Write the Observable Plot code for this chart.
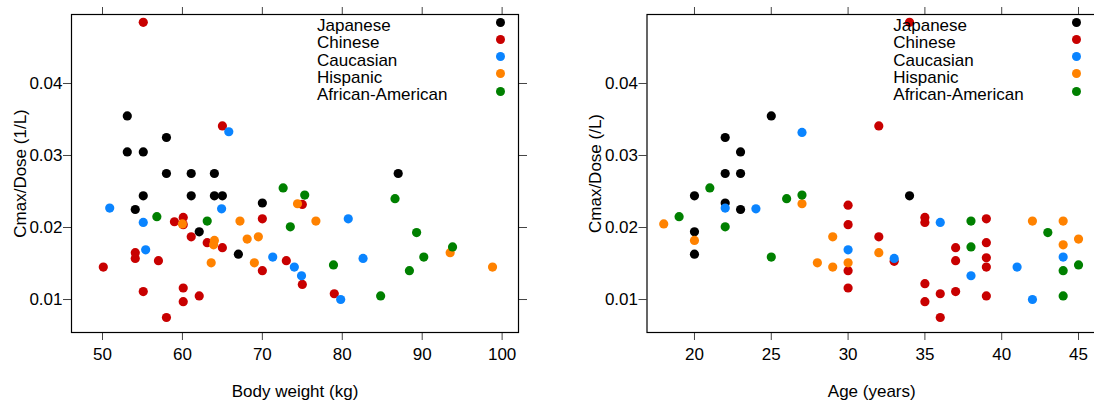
<!DOCTYPE html>
<html>
<head>
<meta charset="utf-8">
<script src="https://cdn.jsdelivr.net/npm/d3@7"></script>
<script src="https://cdn.jsdelivr.net/npm/@observablehq/plot@0.6"></script>
<style>
  html, body { margin: 0; padding: 0; background: #fff; overflow: hidden; }
  #wrap { position: relative; width: 1094px; height: 402px; display: flex; overflow: hidden;
          font-family: "Liberation Sans", Arial, sans-serif; }
  .panel { position: relative; flex: none; }
  .lg-text { position: absolute; font-size: 17px; line-height: 17px; white-space: nowrap; color: #000; }
  .lg-dot { position: absolute; width: 9px; height: 9px; border-radius: 50%; }
</style>
</head>
<body>
<div id="wrap"></div>
<script>
// Groups and colours
const groups = ["Japanese", "Chinese", "Caucasian", "Hispanic", "African-American"];
const groupColors = ["#000000", "#c80000", "#0a84ff", "#ff8200", "#008000"];

// Panel 1: body weight (kg) vs Cmax/Dose, per group [weight, value]
const wtJapanese = [[53.1,.0355],[58,.0325],[53.1,.0305],[55.1,.0305],[58,.0275],[61.1,.0275],[64,.0275],[87,.0275],[55.1,.0244],[61.1,.0244],[64,.0244],[65,.0244],[70,.0234],[54.1,.0225],[62.1,.0194],[67,.0163]];
const wtChinese = [[55.1,.0485],[65,.0341],[75,.0232],[60.1,.0214],[70,.0212],[59,.0208],[60.1,.0204],[61.1,.0187],[63.1,.0179],[65,.0172],[54.1,.0165],[54.1,.0157],[57,.0154],[73,.0154],[50.1,.0145],[70,.0140],[75,.0121],[60.1,.0116],[55.1,.0111],[79,.0108],[62.1,.0105],[60.1,.0097],[58,.0075]];
const wtCaucasian = [[65.8,.0333],[50.9,.0227],[64.9,.0226],[80.75,.0212],[55.1,.0207],[55.4,.0169],[71.3,.0159],[82.6,.0157],[74,.0145],[74.9,.0133],[79.8,.0100]];
const wtHispanic = [[74.4,.0233],[60,.0205],[67.2,.0209],[76.7,.0209],[68.1,.0184],[69.5,.0187],[64,.0182],[63.9,.0176],[93.5,.0165],[63.6,.0151],[69,.0151],[98.8,.0145]];
const wtAfricanAmerican = [[72.6,.0255],[56.8,.0215],[63.1,.0209],[73.5,.0201],[75.3,.0245],[86.6,.0240],[89.3,.0193],[93.8,.0173],[90.2,.0159],[78.9,.0148],[88.4,.0140],[84.8,.0105]];

// Panel 2: age (years) vs Cmax/Dose, per group [age, value]
const ageJapanese = [[25,.0355],[22,.0325],[23,.0305],[22,.0275],[23,.0275],[20,.0244],[22,.0234],[23,.0225],[20,.0194],[20,.0163],[34,.0244]];
const ageChinese = [[34,.0485],[32,.0341],[30,.0231],[30,.0204],[30,.0140],[30,.0116],[32,.0187],[33,.0153],[35,.0214],[35,.0207],[35,.0122],[35,.0097],[36,.0108],[36,.0075],[37,.0172],[37,.0154],[37,.0111],[39,.0212],[39,.0179],[39,.0158],[39,.0145],[39,.0105]];
const ageCaucasian = [[27,.0332],[22,.0227],[24,.0226],[36,.0207],[30,.0169],[33,.0157],[38,.0133],[41,.0145],[42,.0100],[44,.0159]];
const ageHispanic = [[18,.0205],[20,.0182],[27,.0233],[28,.0151],[29,.0187],[29,.0145],[30,.0151],[32,.0165],[42,.0209],[44,.0209],[44,.0176],[45,.0184]];
const ageAfricanAmerican = [[19,.0215],[21,.0255],[22,.0201],[25,.0159],[26,.0240],[27,.0245],[38,.0209],[38,.0173],[43,.0193],[44,.0140],[44,.0105],[45,.0148]];

// Tick labels
const wtTicks = [50, 60, 70, 80, 90, 100];
const ageTicks = [20, 25, 30, 35, 40, 45];
const yTicks = [0.01, 0.02, 0.03, 0.04];

function rows(byGroup) {
  const out = [];
  byGroup.forEach((arr, gi) => arr.forEach(([x, y]) => out.push({x, y, group: groups[gi]})));
  return out;
}
const wtData = rows([wtJapanese, wtChinese, wtCaucasian, wtHispanic, wtAfricanAmerican]);
const ageData = rows([ageJapanese, ageChinese, ageCaucasian, ageHispanic, ageAfricanAmerican]);

function panel({data, xDomain, xTicks, xLabel, yLabel, width, marginLeft, marginRight, yLabelOffset, legendX, legendDotX}) {
  const font = "'Liberation Sans', Arial, sans-serif";
  const svg = Plot.plot({
    width, height: 402,
    marginTop: 14, marginBottom: 70, marginLeft, marginRight,
    style: {fontFamily: font, fontSize: "17px", color: "#000", background: "transparent", overflow: "visible"},
    x: {domain: xDomain},
    y: {domain: [0.00542, 0.04958]},
    color: {domain: groups, range: groupColors},
    marks: [
      Plot.axisX({anchor: "bottom", ticks: xTicks, tickSize: 8, tickPadding: 7, stroke: "#444", fill: "#000",
                  label: xLabel, labelAnchor: "center", labelArrow: "none", labelOffset: 64, fontSize: 17}),
      Plot.axisX({anchor: "top", ticks: xTicks, tickSize: 8, stroke: "#444", fill: "none", label: null}),
      Plot.axisY({anchor: "left", ticks: yTicks, tickSize: 8, tickPadding: 1, stroke: "#444", fill: "#000",
                  tickFormat: d3.format(".2f"),
                  label: yLabel, labelAnchor: "center", labelArrow: "none", labelOffset: yLabelOffset, fontSize: 17}),
      Plot.axisY({anchor: "right", ticks: yTicks, tickSize: 8, stroke: "#444", fill: "none", label: null}),
      Plot.frame({stroke: "#000", strokeWidth: 1.2}),
      Plot.dot(data, {x: "x", y: "y", fill: "group", r: 4.6, stroke: "none"})
    ]
  });
  const div = document.createElement("div");
  div.className = "panel";
  div.style.width = width + "px";
  div.style.height = "402px";
  div.appendChild(svg);
  groups.forEach((g, i) => {
    const t = document.createElement("div");
    t.className = "lg-text";
    t.textContent = g;
    t.style.left = legendX + "px";
    t.style.top = (17 + i * 17.3) + "px";
    div.appendChild(t);
    const d = document.createElement("div");
    d.className = "lg-dot";
    d.style.background = groupColors[i];
    d.style.left = (legendDotX - 4.5) + "px";
    d.style.top = (22 + i * 17.3 - 4.5) + "px";
    div.appendChild(d);
  });
  return div;
}

const wrap = document.getElementById("wrap");
wrap.appendChild(panel({
  data: wtData, xDomain: [46.12, 102.05], xTicks: wtTicks,
  xLabel: "Body weight (kg)", yLabel: "Cmax/Dose (1/L)",
  width: 547, marginLeft: 71, marginRight: 29, yLabelOffset: 58,
  legendX: 317, legendDotX: 500.7
}));
wrap.appendChild(panel({
  data: ageData, xDomain: [16.91, 46.17], xTicks: ageTicks,
  xLabel: "Age (years)", yLabel: "Cmax/Dose (/L)",
  width: 549, marginLeft: 99.5, marginRight: 0, yLabelOffset: 58,
  legendX: 346.3, legendDotX: 529
}));
</script>
</body>
</html>
